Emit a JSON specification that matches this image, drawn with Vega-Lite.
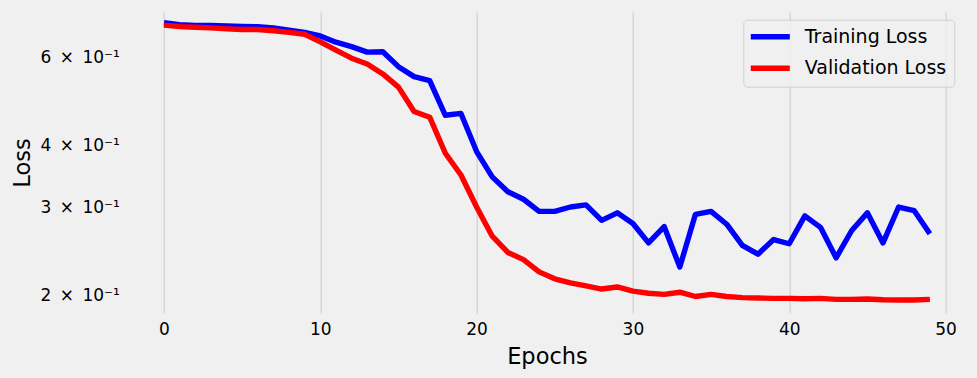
{
  "$schema": "https://vega.github.io/schema/vega-lite/v6.json",
  "width": 842.5,
  "height": 301,
  "autosize": {"type": "none"},
  "padding": {"left": 125.7, "top": 12, "right": 9, "bottom": 65},
  "background": "#f0f0f0",
  "config": {
    "view": {"stroke": null, "fill": "#f0f0f0"},
    "font": "DejaVu Sans",
    "axis": {"labelFont": "DejaVu Sans", "titleFont": "DejaVu Sans", "labelColor": "#000000", "titleColor": "#000000", "titleFontWeight": "normal", "domain": false, "ticks": false}
  },
  "data": {
    "values": [
      {"epoch": 0, "series": "Training Loss", "loss": 0.706},
      {"epoch": 1, "series": "Training Loss", "loss": 0.699},
      {"epoch": 2, "series": "Training Loss", "loss": 0.697},
      {"epoch": 3, "series": "Training Loss", "loss": 0.697},
      {"epoch": 4, "series": "Training Loss", "loss": 0.695},
      {"epoch": 5, "series": "Training Loss", "loss": 0.694},
      {"epoch": 6, "series": "Training Loss", "loss": 0.693},
      {"epoch": 7, "series": "Training Loss", "loss": 0.689},
      {"epoch": 8, "series": "Training Loss", "loss": 0.682},
      {"epoch": 9, "series": "Training Loss", "loss": 0.675},
      {"epoch": 10, "series": "Training Loss", "loss": 0.664},
      {"epoch": 11, "series": "Training Loss", "loss": 0.645},
      {"epoch": 12, "series": "Training Loss", "loss": 0.632},
      {"epoch": 13, "series": "Training Loss", "loss": 0.616},
      {"epoch": 14, "series": "Training Loss", "loss": 0.617},
      {"epoch": 15, "series": "Training Loss", "loss": 0.576},
      {"epoch": 16, "series": "Training Loss", "loss": 0.550},
      {"epoch": 17, "series": "Training Loss", "loss": 0.540},
      {"epoch": 18, "series": "Training Loss", "loss": 0.460},
      {"epoch": 19, "series": "Training Loss", "loss": 0.464},
      {"epoch": 20, "series": "Training Loss", "loss": 0.389},
      {"epoch": 21, "series": "Training Loss", "loss": 0.346},
      {"epoch": 22, "series": "Training Loss", "loss": 0.323},
      {"epoch": 23, "series": "Training Loss", "loss": 0.312},
      {"epoch": 24, "series": "Training Loss", "loss": 0.295},
      {"epoch": 25, "series": "Training Loss", "loss": 0.295},
      {"epoch": 26, "series": "Training Loss", "loss": 0.301},
      {"epoch": 27, "series": "Training Loss", "loss": 0.304},
      {"epoch": 28, "series": "Training Loss", "loss": 0.283},
      {"epoch": 29, "series": "Training Loss", "loss": 0.293},
      {"epoch": 30, "series": "Training Loss", "loss": 0.279},
      {"epoch": 31, "series": "Training Loss", "loss": 0.255},
      {"epoch": 32, "series": "Training Loss", "loss": 0.275},
      {"epoch": 33, "series": "Training Loss", "loss": 0.228},
      {"epoch": 34, "series": "Training Loss", "loss": 0.291},
      {"epoch": 35, "series": "Training Loss", "loss": 0.295},
      {"epoch": 36, "series": "Training Loss", "loss": 0.278},
      {"epoch": 37, "series": "Training Loss", "loss": 0.252},
      {"epoch": 38, "series": "Training Loss", "loss": 0.242},
      {"epoch": 39, "series": "Training Loss", "loss": 0.259},
      {"epoch": 40, "series": "Training Loss", "loss": 0.254},
      {"epoch": 41, "series": "Training Loss", "loss": 0.289},
      {"epoch": 42, "series": "Training Loss", "loss": 0.274},
      {"epoch": 43, "series": "Training Loss", "loss": 0.238},
      {"epoch": 44, "series": "Training Loss", "loss": 0.270},
      {"epoch": 45, "series": "Training Loss", "loss": 0.293},
      {"epoch": 46, "series": "Training Loss", "loss": 0.255},
      {"epoch": 47, "series": "Training Loss", "loss": 0.301},
      {"epoch": 48, "series": "Training Loss", "loss": 0.296},
      {"epoch": 49, "series": "Training Loss", "loss": 0.266},
      {"epoch": 0, "series": "Validation Loss", "loss": 0.698},
      {"epoch": 1, "series": "Validation Loss", "loss": 0.693},
      {"epoch": 2, "series": "Validation Loss", "loss": 0.691},
      {"epoch": 3, "series": "Validation Loss", "loss": 0.689},
      {"epoch": 4, "series": "Validation Loss", "loss": 0.686},
      {"epoch": 5, "series": "Validation Loss", "loss": 0.684},
      {"epoch": 6, "series": "Validation Loss", "loss": 0.684},
      {"epoch": 7, "series": "Validation Loss", "loss": 0.680},
      {"epoch": 8, "series": "Validation Loss", "loss": 0.675},
      {"epoch": 9, "series": "Validation Loss", "loss": 0.669},
      {"epoch": 10, "series": "Validation Loss", "loss": 0.646},
      {"epoch": 11, "series": "Validation Loss", "loss": 0.622},
      {"epoch": 12, "series": "Validation Loss", "loss": 0.599},
      {"epoch": 13, "series": "Validation Loss", "loss": 0.583},
      {"epoch": 14, "series": "Validation Loss", "loss": 0.557},
      {"epoch": 15, "series": "Validation Loss", "loss": 0.524},
      {"epoch": 16, "series": "Validation Loss", "loss": 0.468},
      {"epoch": 17, "series": "Validation Loss", "loss": 0.456},
      {"epoch": 18, "series": "Validation Loss", "loss": 0.386},
      {"epoch": 19, "series": "Validation Loss", "loss": 0.349},
      {"epoch": 20, "series": "Validation Loss", "loss": 0.301},
      {"epoch": 21, "series": "Validation Loss", "loss": 0.263},
      {"epoch": 22, "series": "Validation Loss", "loss": 0.244},
      {"epoch": 23, "series": "Validation Loss", "loss": 0.236},
      {"epoch": 24, "series": "Validation Loss", "loss": 0.223},
      {"epoch": 25, "series": "Validation Loss", "loss": 0.216},
      {"epoch": 26, "series": "Validation Loss", "loss": 0.212},
      {"epoch": 27, "series": "Validation Loss", "loss": 0.209},
      {"epoch": 28, "series": "Validation Loss", "loss": 0.206},
      {"epoch": 29, "series": "Validation Loss", "loss": 0.208},
      {"epoch": 30, "series": "Validation Loss", "loss": 0.204},
      {"epoch": 31, "series": "Validation Loss", "loss": 0.202},
      {"epoch": 32, "series": "Validation Loss", "loss": 0.201},
      {"epoch": 33, "series": "Validation Loss", "loss": 0.203},
      {"epoch": 34, "series": "Validation Loss", "loss": 0.199},
      {"epoch": 35, "series": "Validation Loss", "loss": 0.201},
      {"epoch": 36, "series": "Validation Loss", "loss": 0.199},
      {"epoch": 37, "series": "Validation Loss", "loss": 0.198},
      {"epoch": 38, "series": "Validation Loss", "loss": 0.1976},
      {"epoch": 39, "series": "Validation Loss", "loss": 0.1973},
      {"epoch": 40, "series": "Validation Loss", "loss": 0.1973},
      {"epoch": 41, "series": "Validation Loss", "loss": 0.197},
      {"epoch": 42, "series": "Validation Loss", "loss": 0.1973},
      {"epoch": 43, "series": "Validation Loss", "loss": 0.1964},
      {"epoch": 44, "series": "Validation Loss", "loss": 0.1964},
      {"epoch": 45, "series": "Validation Loss", "loss": 0.1967},
      {"epoch": 46, "series": "Validation Loss", "loss": 0.196},
      {"epoch": 47, "series": "Validation Loss", "loss": 0.1958},
      {"epoch": 48, "series": "Validation Loss", "loss": 0.1958},
      {"epoch": 49, "series": "Validation Loss", "loss": 0.1964}
    ]
  },
  "mark": {"type": "line", "strokeWidth": 5.4, "strokeCap": "butt", "strokeJoin": "round", "clip": true},
  "encoding": {
    "x": {
      "field": "epoch",
      "type": "quantitative",
      "scale": {"domain": [-2.45, 51.45], "nice": false, "zero": false},
      "axis": {
        "title": "Epochs",
        "values": [0, 10, 20, 30, 40, 50],
        "format": "d",
        "grid": true,
        "gridColor": "#cbcbcb",
        "gridWidth": 1,
        "labelFontSize": 17,
        "labelPadding": 8.5,
        "titleFontSize": 22.5,
        "titleBaseline": "alphabetic",
        "titleY": 50.3
      }
    },
    "y": {
      "field": "loss",
      "type": "quantitative",
      "scale": {"type": "log", "domain": [0.1844, 0.7416], "nice": false, "zero": false},
      "axis": {
        "title": "Loss",
        "values": [0.2, 0.3, 0.4, 0.6],
        "labelExpr": "round(datum.value * 10) + '\u2002×\u200210⁻¹'",
        "grid": false,
        "labelFontSize": 17,
        "labelPadding": 6.4,
        "titleFontSize": 22.5,
        "titleAngle": -90,
        "titleBaseline": "alphabetic",
        "titleAlign": "center",
        "titleX": -96.4,
        "titleY": 150.5
      }
    },
    "color": {
      "field": "series",
      "type": "nominal",
      "scale": {"domain": ["Training Loss", "Validation Loss"], "range": ["#0000ff", "#ff0000"]},
      "legend": {
        "title": null,
        "orient": "none",
        "legendX": 617.6,
        "legendY": 7.7,
        "padding": 7.5,
        "fillColor": "rgba(240,240,240,0.8)",
        "strokeColor": "#d0d0d0",
        "cornerRadius": 4,
        "symbolType": "M-3,0H3",
        "symbolSize": 169,
        "symbolStrokeWidth": 5.4,
        "symbolOffset": 10,
        "labelOffset": 25,
        "labelFontSize": 19,
        "labelFont": "DejaVu Sans",
        "labelColor": "#000000",
        "labelLimit": 300,
        "rowPadding": 8.6
      }
    }
  }
}
